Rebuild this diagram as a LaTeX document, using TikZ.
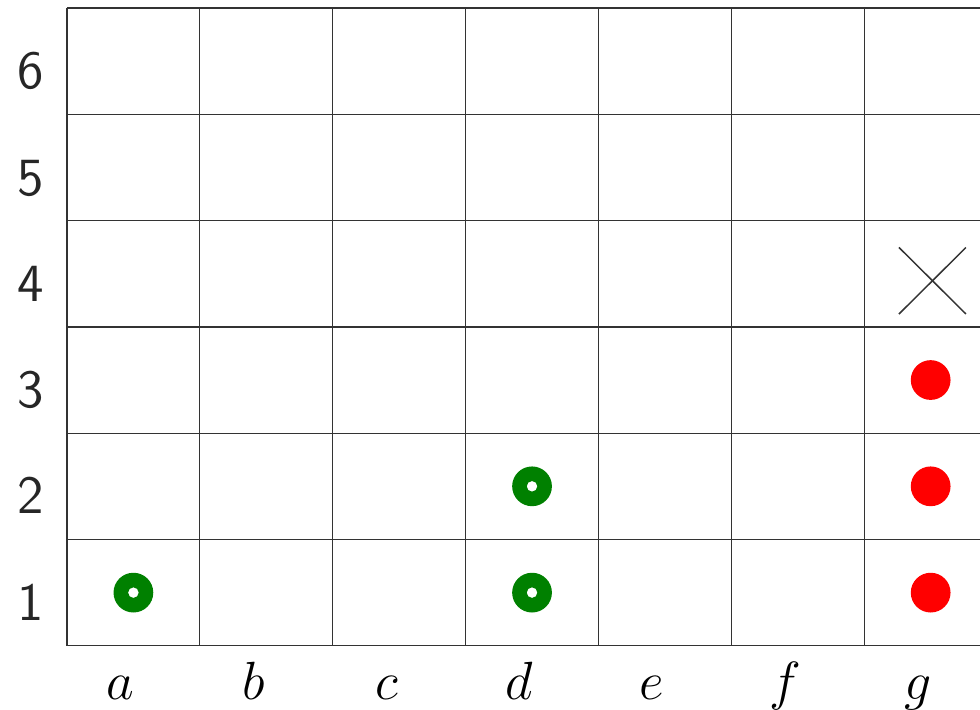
\documentclass[tikz,border=0pt]{standalone}
\usepackage{tikz}
\tikzset{
  gridline/.style={draw=black!80, line width=0.35pt},
  redstone/.style={fill=red},
  greenring/.style={fill=green!50!black, even odd rule},
  cross/.style={draw=black!80, line width=0.4pt},
  rowlabel/.style={anchor=base, font=\Large\sffamily, text=black!85, inner sep=0pt},
  collabel/.style={anchor=base, font=\Large, inner sep=0pt}
}
\begin{document}
\begin{tikzpicture}
\useasboundingbox (-0.630,-0.602) rectangle (8.589,6.075);
\clip (-0.630,-0.602) rectangle (8.589,6.075);
% grid
\foreach \i in {0,...,7} {
  \draw[gridline] (\i*1.25,0) -- (\i*1.25,6);
}
\foreach \j in {0,...,6} {
  \draw[gridline] (0,\j) -- (8.75,\j);
}
% row labels
\foreach \k in {1,...,6} {
  \node[rowlabel] (r\k) at (-0.34,\k-1+0.24) {\k};
}
% column labels
\foreach \c [count=\n from 0] in {a,b,c,d,e,f,g} {
  \node[collabel] (c\c) at (\n*1.25+0.505,-0.51) {$\c$};
}
% green rings
\coordinate (gr1) at (0.625,0.5);
\coordinate (gr2) at (4.375,0.5);
\coordinate (gr3) at (4.375,1.5);
\foreach \q in {1,2,3} {
  \fill[greenring] (gr\q) circle (0.187) (gr\q) circle (0.05);
}
% red stones
\coordinate (rd1) at (8.125,0.5);
\coordinate (rd2) at (8.125,1.5);
\coordinate (rd3) at (8.125,2.5);
\foreach \q in {1,2,3} {
  \fill[redstone] (rd\q) circle (0.187);
}
% cross
\coordinate (x1) at (7.827,3.121);
\coordinate (x2) at (8.457,3.747);
\coordinate (x3) at (7.827,3.747);
\coordinate (x4) at (8.457,3.121);
\draw[cross] (x1) -- (x2);
\draw[cross] (x3) -- (x4);
\end{tikzpicture}
\end{document}
